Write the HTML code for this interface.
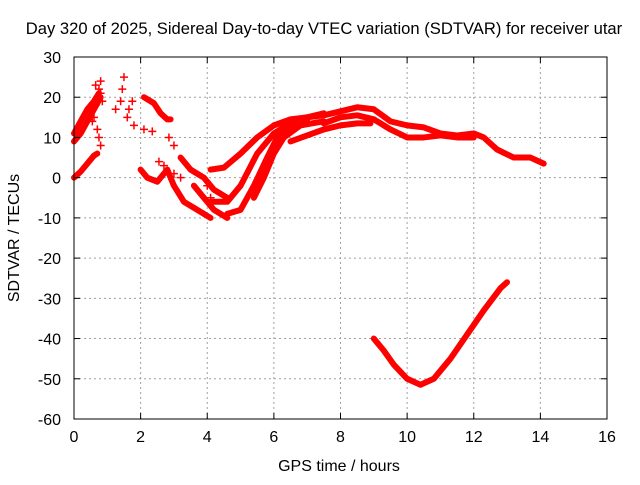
<!DOCTYPE html>
<html><head><meta charset="utf-8"><style>
body{margin:0;background:#fff;}
text{font-family:"Liberation Sans",sans-serif;font-size:16px;fill:#000;}
</style></head><body>
<svg id="chart" width="640" height="480">
<text x="324" y="34" text-anchor="middle" style="font-size:16.6px">Day 320 of 2025, Sidereal Day-to-day VTEC variation (SDTVAR) for receiver utar</text>
<g id="grid"></g><g id="marks"></g><g id="axes"></g>
<text x="339" y="471" text-anchor="middle">GPS time / hours</text>
<text transform="translate(19,238) rotate(-90)" text-anchor="middle">SDTVAR / TECUs</text>
</svg>
<script>
const xTicks=[0,2,4,6,8,10,12,14,16];
const yTicks=[-60,-50,-40,-30,-20,-10,0,10,20,30];
const traceBottom=[[9.0,-40],[9.3,-43],[9.6,-46.5],[10.0,-50],[10.4,-51.5],[10.8,-50],[11.3,-45],[11.8,-39],[12.3,-33],[12.8,-27.5],[13.0,-26]];
const traceMainUpper=[[6.5,14],[7.0,15],[7.5,15.5],[8.0,16.5],[8.5,17.5],[9.0,17],[9.5,14],[10.0,13],[10.5,12.5],[11.0,11],[11.5,10.5],[12.0,11],[12.3,10],[12.7,7],[13.2,5],[13.7,5],[14.1,3.5]];
const traceMainLower=[[7.5,13.5],[8.0,15],[8.5,15.5],[9.0,14.5],[9.5,12],[10.0,10],[10.5,10],[11.0,10.5],[11.5,10],[12.0,10]];
const traceLate=[[6.5,9],[7.0,10.5],[7.5,12],[8.0,13],[8.5,13.5],[8.9,13.5]];
const traceRise1=[[4.1,2],[4.5,2.5],[5.0,6],[5.5,10],[6.0,13],[6.5,14.5],[7.0,15],[7.5,16]];
const traceRise2=[[4.1,-6],[4.6,-6],[5.0,-2],[5.5,6],[6.0,11],[6.5,13.5],[7.0,14]];
const traceRise3=[[4.6,-9],[5.0,-8],[5.4,-2],[5.8,5],[6.1,10],[6.6,13]];
const traceRise4=[[5.4,-5],[5.7,0],[6.0,6],[6.3,10],[6.8,13],[7.5,14]];
const traceEarly1=[[0.0,9],[0.2,11],[0.4,14],[0.6,17],[0.8,20]];
const traceEarly1b=[[0.0,11],[0.2,14],[0.4,17],[0.6,19],[0.75,21]];
const traceEarly2=[[0.0,0],[0.2,1.5],[0.4,3.5],[0.6,5.5],[0.7,6]];
const traceMid1=[[2.1,20],[2.4,18.5],[2.6,16],[2.8,14.5],[2.9,14.5]];
const traceMid2=[[3.2,5],[3.5,2],[3.9,0],[4.2,-3],[4.6,-5]];
const traceMid3=[[2.0,2],[2.2,0],[2.5,-1],[2.8,2],[3.0,-2],[3.3,-6],[3.7,-8],[4.1,-10]];
const traceMid4=[[3.6,-2],[3.9,-5],[4.2,-8],[4.6,-10]];
const scatterPts=[[0.6,15],[0.65,18],[0.7,20],[0.75,22],[0.8,24],[0.7,12],[0.75,10],[0.8,8],[0.55,14],[0.65,23],[0.8,21],[0.85,19],[1.25,17],[1.4,19],[1.45,22],[1.5,25],[1.6,15],[1.65,17],[1.75,19],[1.8,13],[2.1,12],[2.35,11.5],[2.85,10],[3.0,8],[2.55,4],[2.7,3],[3.0,1],[3.2,0],[4.0,-2],[4.1,-5]];
const traces=[traceBottom,traceMainUpper,traceMainLower,traceLate,traceRise1,traceRise2,traceRise3,traceRise4,traceEarly1,traceEarly1b,traceEarly2,traceMid1,traceMid2,traceMid3,traceMid4];
const X0=74,X1=607,Y0=419,Y1=57;
const sx=h=>X0+(h-0)/(16-0)*(X1-X0);
const sy=v=>Y0-(v+60)/(90)*(Y0-Y1);
const NS="http://www.w3.org/2000/svg";
const grid=document.getElementById('grid'),axes=document.getElementById('axes'),marks=document.getElementById('marks');
function mk(tag,attrs,parent){const e=document.createElementNS(NS,tag);for(const k in attrs)e.setAttribute(k,attrs[k]);parent.appendChild(e);return e;}
xTicks.forEach(t=>{
 const x=sx(t);
 if(t>0&&t<16){const g=mk('line',{x1:x,x2:x,y1:Y1,y2:Y0,stroke:'#a0a0a0','stroke-dasharray':'2,3'},grid);
 
 }
 mk('line',{x1:x,x2:x,y1:Y0,y2:Y0-6,stroke:'#000'},axes);
 mk('line',{x1:x,x2:x,y1:Y1,y2:Y1+6,stroke:'#000'},axes);
 const l=mk('text',{x:x,y:Y0+23,'text-anchor':'middle'},axes);l.textContent=t;
 
 
});
yTicks.forEach(t=>{
 const y=sy(t);
 if(t>-60&&t<30){const g=mk('line',{x1:X0,x2:X1,y1:y,y2:y,stroke:'#a0a0a0','stroke-dasharray':'2,3'},grid);
 
 }
 mk('line',{x1:X0,x2:X0+6,y1:y,y2:y,stroke:'#000'},axes);
 mk('line',{x1:X1,x2:X1-6,y1:y,y2:y,stroke:'#000'},axes);
 const l=mk('text',{x:X0-13,y:y+6,'text-anchor':'end'},axes);l.textContent=t;
 
 
});
const frame=mk('rect',{x:X0,y:Y1,width:X1-X0,height:Y0-Y1,fill:'none',stroke:'#000'},axes);


traces.forEach(tr=>{
 const p=mk('polyline',{points:tr.map(d=>sx(d[0])+','+sy(d[1])).join(' '),fill:'none',stroke:'#ff0000','stroke-width':6,'stroke-linejoin':'round','stroke-linecap':'round'},marks);
 
 
});
scatterPts.forEach(d=>{
 const x=sx(d[0]),y=sy(d[1]);
 const p=mk('path',{d:`M${x-4},${y}H${x+4}M${x},${y-4}V${y+4}`,stroke:'#ff0000','stroke-width':1.5},marks);
 
 
});
</script>
</body></html>
